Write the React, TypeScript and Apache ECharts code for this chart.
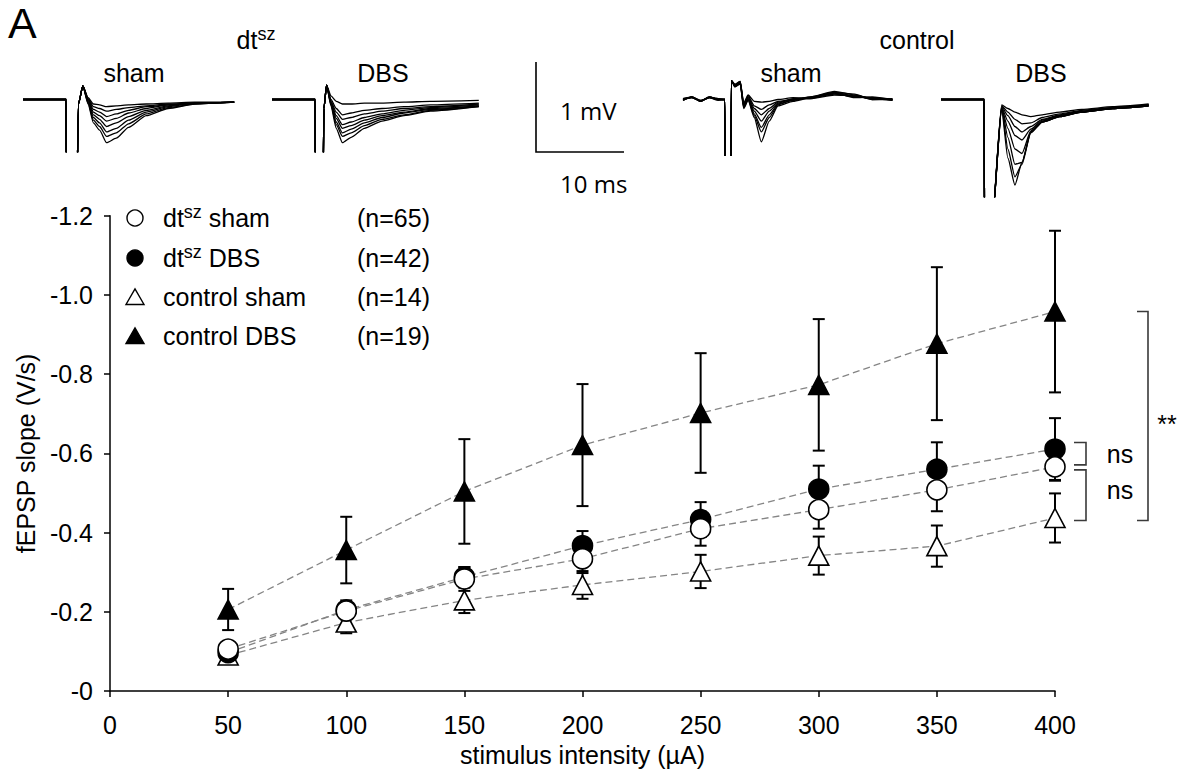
import React, { useEffect, useRef } from "react";
import * as echarts from "echarts";

// ---------------- data: fEPSP slope (V/s) vs stimulus intensity ----------------
const intensities = [50, 100, 150, 200, 250, 300, 350, 400];
const seriesNames = ["dtsz sham", "dtsz DBS", "control sham", "control DBS"];
const nCounts = [65, 42, 14, 19];

const dtszSham = [-0.106, -0.202, -0.283, -0.334, -0.41, -0.458, -0.508, -0.566];
const dtszShamSem = [0.015, 0.02, 0.03, 0.036, 0.043, 0.048, 0.054, 0.035];
const dtszDBS = [-0.097, -0.205, -0.288, -0.367, -0.433, -0.51, -0.56, -0.611];
const dtszDBSSem = [0.018, 0.024, 0.025, 0.037, 0.044, 0.059, 0.068, 0.078];
const controlSham = [-0.09, -0.173, -0.229, -0.268, -0.302, -0.342, -0.366, -0.437];
const controlShamSem = [0.02, 0.027, 0.032, 0.035, 0.042, 0.048, 0.052, 0.062];
const controlDBS = [-0.206, -0.356, -0.504, -0.621, -0.702, -0.773, -0.877, -0.958];
const controlDBSSem = [0.052, 0.084, 0.132, 0.154, 0.151, 0.166, 0.193, 0.204];

const xTicks = [0, 50, 100, 150, 200, 250, 300, 350, 400];
const yTicks = [-1.2, -1.0, -0.8, -0.6, -0.4, -0.2, 0];

// significance brackets at 400 µA
const bracketLabels = ["**", "ns", "ns"];

// ---------------- example traces (time in ms, voltage in mV) ----------------
const strainLabels = ["dtsz", "control"];
const conditionLabels = ["sham", "DBS", "sham", "DBS"];

const traceTimesA = [0, 4.9, 4.95, 6.05, 6.3, 6.8, 7.4, 8.0, 8.7, 9.5, 10.6, 12.0, 14.0, 16.5, 19.5, 24];
const tracesA = [
  [0, 0, -1.5, -1.5, -0.05, 0.15, 0.02, -0.05, -0.06, -0.08, -0.07, -0.06, -0.05, -0.04, -0.03, -0.03],
  [0, 0, -1.5, -1.5, -0.05, 0.15, 0.01, -0.08, -0.1, -0.13, -0.11, -0.09, -0.07, -0.05, -0.04, -0.03],
  [0, 0, -1.5, -1.5, -0.05, 0.15, 0.0, -0.11, -0.14, -0.19, -0.16, -0.12, -0.08, -0.06, -0.04, -0.03],
  [0, 0, -1.5, -1.5, -0.05, 0.15, -0.01, -0.14, -0.18, -0.24, -0.21, -0.15, -0.1, -0.06, -0.04, -0.03],
  [0, 0, -1.5, -1.5, -0.05, 0.15, -0.02, -0.17, -0.22, -0.3, -0.26, -0.19, -0.12, -0.07, -0.04, -0.03],
  [0, 0, -1.5, -1.5, -0.05, 0.15, -0.03, -0.2, -0.26, -0.36, -0.32, -0.23, -0.14, -0.08, -0.04, -0.03],
  [0, 0, -1.5, -1.5, -0.05, 0.15, -0.04, -0.23, -0.3, -0.41, -0.37, -0.27, -0.16, -0.09, -0.05, -0.03],
  [0, 0, -1.5, -1.5, -0.05, 0.15, -0.05, -0.26, -0.34, -0.48, -0.43, -0.31, -0.18, -0.1, -0.05, -0.03],
];

const traceTimesB = [0, 4.9, 4.95, 5.75, 5.9, 6.2, 6.7, 7.3, 8.0, 9.0, 10.5, 12.5, 15, 18, 23.5];
const tracesB = [
  [0, 0, -1.5, -1.5, -0.1, 0.16, 0.04, -0.02, -0.05, -0.05, -0.04, -0.04, -0.03, -0.02, -0.01],
  [0, 0, -1.5, -1.5, -0.1, 0.16, 0.0, -0.1, -0.17, -0.15, -0.12, -0.1, -0.08, -0.06, -0.04],
  [0, 0, -1.5, -1.5, -0.1, 0.16, -0.02, -0.14, -0.22, -0.2, -0.16, -0.13, -0.1, -0.08, -0.05],
  [0, 0, -1.5, -1.5, -0.1, 0.16, -0.03, -0.18, -0.28, -0.25, -0.2, -0.16, -0.12, -0.09, -0.06],
  [0, 0, -1.5, -1.5, -0.1, 0.16, -0.04, -0.21, -0.32, -0.29, -0.23, -0.18, -0.14, -0.1, -0.07],
  [0, 0, -1.5, -1.5, -0.1, 0.16, -0.05, -0.25, -0.37, -0.33, -0.26, -0.2, -0.15, -0.11, -0.07],
  [0, 0, -1.5, -1.5, -0.1, 0.16, -0.06, -0.28, -0.41, -0.37, -0.29, -0.22, -0.17, -0.12, -0.08],
  [0, 0, -1.5, -1.5, -0.1, 0.16, -0.07, -0.32, -0.48, -0.42, -0.32, -0.24, -0.18, -0.13, -0.08],
];

const traceTimesC = [0, 1.0, 2.0, 3.0, 4.0, 4.75, 4.8, 5.4, 5.5, 5.9, 6.5, 6.9, 7.4, 8.1, 8.9, 9.8, 10.8, 12.5, 14.5, 17.2, 19.5, 21.5, 23.8];
const tracesC = [
  [0, 0.03, -0.02, 0.03, 0.0, 0.0, -1.5, -1.5, 0.21, 0.17, 0.2, -0.04, 0.05, -0.02, -0.03, -0.02, 0.0, 0.02, 0.01, 0.07, 0.02, 0.03, 0.0],
  [0.01, 0.02, -0.01, 0.02, 0.01, 0.0, -1.5, -1.5, 0.21, 0.16, 0.2, -0.05, 0.04, -0.07, -0.11, -0.06, -0.02, 0.0, 0.02, 0.08, 0.04, 0.0, 0.01],
  [-0.01, 0.03, -0.02, 0.02, -0.01, 0.0, -1.5, -1.5, 0.21, 0.16, 0.19, -0.06, 0.03, -0.1, -0.17, -0.1, -0.03, 0.0, 0.03, 0.09, 0.05, 0.01, 0.0],
  [0.0, 0.02, -0.02, 0.03, 0.0, 0.0, -1.5, -1.5, 0.21, 0.15, 0.19, -0.07, 0.02, -0.13, -0.24, -0.13, -0.04, 0.01, 0.02, 0.06, 0.03, 0.02, -0.01],
  [0.01, 0.03, -0.01, 0.02, 0.01, 0.0, -1.5, -1.5, 0.21, 0.15, 0.18, -0.08, 0.01, -0.16, -0.31, -0.17, -0.05, -0.01, 0.03, 0.08, 0.06, 0.0, 0.0],
  [0.0, 0.02, -0.02, 0.03, 0.0, 0.0, -1.5, -1.5, 0.21, 0.14, 0.18, -0.09, 0.0, -0.18, -0.36, -0.2, -0.06, 0.0, 0.01, 0.05, 0.04, 0.01, -0.01],
  [-0.01, 0.03, -0.02, 0.02, 0.0, 0.0, -1.5, -1.5, 0.21, 0.14, 0.17, -0.1, -0.01, -0.2, -0.47, -0.24, -0.07, -0.02, 0.02, 0.07, 0.03, 0.02, 0.0],
];

const traceTimesD = [0, 4.9, 4.95, 5.7, 6.9, 7.6, 8.4, 9.2, 10.2, 11.5, 13.5, 16, 19.5, 23.6];
const tracesD = [
  [0, 0, -1.5, -1.5, -0.06, -0.1, -0.14, -0.17, -0.19, -0.17, -0.14, -0.11, -0.08, -0.05],
  [0, 0, -1.5, -1.5, -0.07, -0.14, -0.22, -0.27, -0.26, -0.2, -0.16, -0.12, -0.09, -0.06],
  [0, 0, -1.5, -1.5, -0.08, -0.18, -0.3, -0.36, -0.3, -0.22, -0.17, -0.13, -0.09, -0.06],
  [0, 0, -1.5, -1.5, -0.09, -0.24, -0.4, -0.45, -0.33, -0.23, -0.18, -0.13, -0.1, -0.06],
  [0, 0, -1.5, -1.5, -0.1, -0.32, -0.55, -0.6, -0.35, -0.24, -0.18, -0.14, -0.1, -0.07],
  [0, 0, -1.5, -1.5, -0.1, -0.42, -0.72, -0.7, -0.36, -0.25, -0.19, -0.14, -0.1, -0.07],
  [0, 0, -1.5, -1.5, -0.11, -0.55, -0.86, -0.72, -0.37, -0.25, -0.19, -0.14, -0.1, -0.07],
  [0, 0, -1.5, -1.5, -0.12, -0.65, -0.95, -0.7, -0.37, -0.25, -0.19, -0.14, -0.1, -0.07],
];

const scaleBarMv = 1;
const scaleBarMs = 10;

// ---------------- layout / style ----------------
const FONT = '"Liberation Sans", Arial, Helvetica, sans-serif';
const FONT2 = '"Open Sans", "Noto Sans", sans-serif';
const PX_MS = 8.8;
const PX_MV = 90;
const V_MAX = 0.3;

const panels = [
  { left: 23, base: 99.5, vMin: -0.58, times: traceTimesA, traces: tracesA, tMax: 24 },
  { left: 272, base: 99.5, vMin: -0.58, times: traceTimesB, traces: tracesB, tMax: 23.5 },
  { left: 683, base: 99.5, vMin: -0.62, times: traceTimesC, traces: tracesC, tMax: 23.8 },
  { left: 941, base: 99.5, vMin: -1.08, times: traceTimesD, traces: tracesD, tMax: 23.6 },
];

const GRID = { left: 110, top: 215.7, width: 945, height: 480 };

function richName(name: string) {
  if (name.startsWith("dtsz")) return `{a|dt}{s|sz}{a|${name.slice(4)}}`;
  return `{a|${name}}`;
}

const richStyles = {
  a: { fontSize: 25, fontFamily: FONT, fill: "#000", lineHeight: 30 },
  s: { fontSize: 18, fontFamily: FONT, fill: "#000", verticalAlign: "top", lineHeight: 18 },
};

export default function App() {
  const ref = useRef<HTMLDivElement>(null);

  useEffect(() => {
    if (!ref.current) return;
    const chart = echarts.init(ref.current, undefined, { renderer: "svg" });

    const groups = [
      { name: seriesNames[3], mean: controlDBS, sem: controlDBSSem, symbol: "triangle", fill: "#000" },
      { name: seriesNames[2], mean: controlSham, sem: controlShamSem, symbol: "triangle", fill: "#fff" },
      { name: seriesNames[1], mean: dtszDBS, sem: dtszDBSSem, symbol: "circle", fill: "#000" },
      { name: seriesNames[0], mean: dtszSham, sem: dtszShamSem, symbol: "circle", fill: "#fff" },
    ];

    const errorSeries = groups.map((g) => ({
      type: "custom",
      name: g.name + " SEM",
      xAxisIndex: 0,
      yAxisIndex: 0,
      z: 1,
      silent: true,
      clip: false,
      data: intensities.map((x, i) => [x, g.mean[i], g.sem[i]]),
      encode: { x: 0, y: 1 },
      renderItem: (params: any, api: any) => {
        const x = api.value(0);
        const y = api.value(1);
        const e = api.value(2);
        const top = api.coord([x, y - e]);
        const bot = api.coord([x, y + e]);
        const w = 6;
        const st = { stroke: "#000", lineWidth: 2 };
        return {
          type: "group",
          children: [
            { type: "line", shape: { x1: top[0], y1: top[1], x2: bot[0], y2: bot[1] }, style: st },
            { type: "line", shape: { x1: top[0] - w, y1: top[1], x2: top[0] + w, y2: top[1] }, style: st },
            { type: "line", shape: { x1: bot[0] - w, y1: bot[1], x2: bot[0] + w, y2: bot[1] }, style: st },
          ],
        };
      },
    }));

    const lineSeries = groups.map((g) => ({
      type: "line",
      name: g.name,
      xAxisIndex: 0,
      yAxisIndex: 0,
      z: 3,
      data: intensities.map((x, i) => [x, g.mean[i]]),
      symbol: g.symbol,
      symbolSize: g.symbol === "circle" ? 20 : [20, 19],
      showAllSymbol: true,
      itemStyle: { color: g.fill, borderColor: "#000", borderWidth: 1.6 },
      lineStyle: { color: "#858585", width: 1.3, type: [7, 4] },
      emphasis: { disabled: true },
    }));

    const last = intensities.length - 1;
    const bracketData = [
      [intensities[last], controlDBS[last], controlSham[last]],
      [intensities[last], dtszDBS[last], dtszSham[last]],
      [intensities[last], dtszSham[last], controlSham[last]],
    ];
    const bracketLayout = [
      { dx: 93, arm: 11, padTop: 0, padBot: 2.5, textDx: 112, textDy: 8 },
      { dx: 31, arm: 12, padTop: -6.5, padBot: -2, textDx: 65, textDy: 0 },
      { dx: 31, arm: 12, padTop: 3, padBot: 2.5, textDx: 65, textDy: -5 },
    ];
    const bracketSeries = {
      type: "custom",
      name: "significance",
      xAxisIndex: 0,
      yAxisIndex: 0,
      z: 4,
      silent: true,
      clip: false,
      data: bracketData,
      encode: { x: 0, y: 1 },
      renderItem: (params: any, api: any) => {
        const idx = params.dataIndex;
        const L = bracketLayout[idx];
        const p1 = api.coord([api.value(0), api.value(1)]);
        const p2 = api.coord([api.value(0), api.value(2)]);
        const x = p1[0] + L.dx;
        const yTop = p1[1] + L.padTop;
        const yBot = p2[1] + L.padBot;
        return {
          type: "group",
          children: [
            {
              type: "polyline",
              shape: { points: [[x - L.arm, yTop], [x, yTop], [x, yBot], [x - L.arm, yBot]] },
              style: { stroke: "#3a3a3a", lineWidth: 1.6, fill: "none" },
            },
            {
              type: "text",
              x: p1[0] + L.textDx,
              y: (yTop + yBot) / 2 + L.textDy,
              style: {
                text: bracketLabels[idx],
                fontSize: 25,
                fontFamily: FONT,
                fill: "#000",
                align: "center",
                verticalAlign: "middle",
              },
            },
          ],
        };
      },
    };

    // trace panels
    const traceGrids = panels.map((p) => ({
      left: p.left,
      top: p.base - V_MAX * PX_MV,
      width: p.tMax * PX_MS,
      height: (V_MAX - p.vMin) * PX_MV,
    }));
    const traceX = panels.map((p, i) => ({ type: "value", gridIndex: i + 1, min: 0, max: p.tMax, show: false }));
    const traceY = panels.map((p, i) => ({ type: "value", gridIndex: i + 1, min: p.vMin, max: V_MAX, show: false }));
    const traceSeries: any[] = [];
    panels.forEach((p, pi) => {
      p.traces.forEach((tr, ti) => {
        traceSeries.push({
          type: "line",
          name: `trace ${pi + 1}-${ti + 1}`,
          xAxisIndex: pi + 1,
          yAxisIndex: pi + 1,
          data: p.times.map((t, k) => [t, tr[k]]),
          symbol: "none",
          smooth: 0.2,
          smoothMonotone: "x",
          clip: true,
          silent: true,
          lineStyle: { color: "#000", width: 1.3 },
          z: 2,
        });
      });
    });

    // labels above traces
    const condCenters = [134, 383, 791, 1041];
    const strainCenters = [256, 917];
    const graphic: any[] = [];
    graphic.push({
      type: "text",
      x: 8,
      y: 44,
      style: { text: "A", fontSize: 43, fontFamily: FONT, fill: "#000", align: "left", verticalAlign: "bottom" },
    });
    strainLabels.forEach((s, i) => {
      graphic.push({
        type: "text",
        x: strainCenters[i],
        y: 40,
        style: {
          text: richName(s),
          rich: richStyles,
          align: "center",
          verticalAlign: "middle",
        },
      });
    });
    conditionLabels.forEach((s, i) => {
      graphic.push({
        type: "text",
        x: condCenters[i],
        y: 73,
        style: { text: s, fontSize: 25, fontFamily: FONT, fill: "#000", align: "center", verticalAlign: "middle" },
      });
    });

    // scale bar
    const sbX = 536;
    const sbY = 152;
    graphic.push({
      type: "polyline",
      shape: { points: [[sbX, sbY - scaleBarMv * PX_MV], [sbX, sbY], [sbX + scaleBarMs * PX_MS, sbY]] },
      style: { stroke: "#000", lineWidth: 1.6, fill: "none" },
    });
    graphic.push({
      type: "text",
      x: 560,
      y: 110,
      style: { text: `${scaleBarMv} mV`, fontSize: 24, fontFamily: FONT2, fill: "#000", align: "left", verticalAlign: "middle" },
    });
    graphic.push({
      type: "text",
      x: 560,
      y: 183,
      style: { text: `${scaleBarMs} ms`, fontSize: 24, fontFamily: FONT2, fill: "#000", align: "left", verticalAlign: "middle" },
    });

    // legend
    const legendRows = [218, 258, 297, 336];
    const mx = 135;
    seriesNames.forEach((name, i) => {
      const y = legendRows[i];
      const filled = name.endsWith("DBS");
      const isTri = name.startsWith("control");
      if (isTri) {
        graphic.push({
          type: "polygon",
          shape: { points: [[mx - 9, y + 7.5], [mx + 9, y + 7.5], [mx, y - 8]] },
          style: { fill: filled ? "#000" : "#fff", stroke: "#000", lineWidth: 1.4 },
        });
      } else {
        graphic.push({
          type: "circle",
          shape: { cx: mx, cy: y, r: 8 },
          style: { fill: filled ? "#000" : "#fff", stroke: "#000", lineWidth: 1.4 },
        });
      }
      graphic.push({
        type: "text",
        x: 163,
        y,
        style: { text: richName(name), rich: richStyles, align: "left", verticalAlign: "middle" },
      });
      graphic.push({
        type: "text",
        x: 357,
        y,
        style: { text: `(n=${nCounts[i]})`, fontSize: 25, fontFamily: FONT, fill: "#000", align: "left", verticalAlign: "middle" },
      });
    });

    const option: any = {
      animation: false,
      backgroundColor: "#fff",
      grid: [GRID, ...traceGrids],
      xAxis: [
        {
          type: "value",
          gridIndex: 0,
          min: xTicks[0],
          max: xTicks[xTicks.length - 1],
          interval: 50,
          axisLine: { show: true, lineStyle: { color: "#000", width: 1.5 } },
          axisTick: { show: true, length: 6, lineStyle: { color: "#000", width: 1.5 } },
          axisLabel: { color: "#000", fontSize: 25, fontFamily: FONT, margin: 21 },
          splitLine: { show: false },
          name: "stimulus intensity (µA)",
          nameLocation: "middle",
          nameGap: 50,
          nameTextStyle: { color: "#000", fontSize: 25, fontFamily: FONT },
        },
        ...traceX,
      ],
      yAxis: [
        {
          type: "value",
          gridIndex: 0,
          min: yTicks[0],
          max: yTicks[yTicks.length - 1],
          interval: 0.2,
          inverse: true,
          axisLine: { show: true, lineStyle: { color: "#000", width: 1.5 } },
          axisTick: { show: true, length: 6, lineStyle: { color: "#000", width: 1.5 } },
          axisLabel: {
            color: "#000",
            fontSize: 25,
            fontFamily: FONT,
            margin: 17,
            formatter: (v: number) => (Math.abs(v) < 1e-9 ? "-0" : v.toFixed(1)),
          },
          splitLine: { show: false },
          name: "fEPSP slope (V/s)",
          nameLocation: "middle",
          nameGap: 72,
          nameRotate: 90,
          nameTextStyle: { color: "#000", fontSize: 25, fontFamily: FONT },
        },
        ...traceY,
      ],
      series: [...errorSeries, ...lineSeries, bracketSeries, ...traceSeries],
      graphic,
    };

    chart.setOption(option);
    return () => chart.dispose();
  }, []);

  return (
    <div
      ref={ref}
      style={{ position: "fixed", left: 0, top: 0, width: 1180, height: 772, background: "#fff" }}
    />
  );
}
